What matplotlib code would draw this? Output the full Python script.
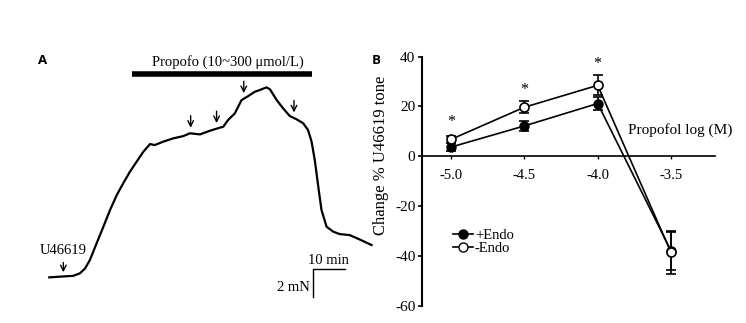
import numpy as np
import matplotlib
matplotlib.use("Agg")
import matplotlib.pyplot as plt
from matplotlib.lines import Line2D

plt.rcParams['font.family'] = ['Liberation Serif', 'DejaVu Serif']
plt.rcParams['axes.unicode_minus'] = False

# %% panel A: tension trace (min, mN above baseline)
trace_t = [0, 7.5, 9.6, 11.2, 12.7, 14.8, 16.9, 19.0, 21.1, 23.1, 25.2, 27.3, 29.4,
           31.5, 33.0, 35.6, 38.8, 41.9, 44.0, 47.1, 50.2, 53.3, 54.4, 55.9, 58.0,
           60.1, 62.2, 64.3, 65.8, 67.9, 69.0, 71.1, 73.1, 75.2, 77.3, 79.4, 80.9,
           82.0, 83.0, 84.1, 85.1, 86.7, 88.8, 90.8, 93.9, 97.0, 100.75]
trace_f = [0, 0.11, 0.29, 0.64, 1.24, 2.43, 3.61, 4.81, 5.88, 6.71, 7.54, 8.26, 8.97,
           9.52, 9.45, 9.69, 9.93, 10.09, 10.29, 10.21, 10.47, 10.69, 10.76, 11.24, 11.71,
           12.66, 12.95, 13.26, 13.38, 13.57, 13.43, 12.66, 12.07, 11.52, 11.29, 11.0, 10.52,
           9.69, 8.38, 6.47, 4.81, 3.61, 3.26, 3.09, 3.02, 2.71, 2.31]
dose_times = [44.2, 52.3, 60.8, 76.5]   # propofol additions
u46619_time = 4.4

# %% panel B: concentration-response
log_conc = [-5.0, -4.5, -4.0, -3.5]
endo_plus = [3.7, 12.2, 21.2, -38.0]
endo_plus_err = [1.5, 2.0, 2.5, 7.5]
endo_minus = [6.8, 19.7, 28.5, -38.6]
endo_minus_err = [1.5, 2.5, 4.0, 8.5]
star_x = [-5.0, -4.5, -4.0]
star_y = [13.7, 26.5, 37.0]

fig = plt.figure(figsize=(7.46, 3.23), dpi=100)

#%% A
ax = fig.add_axes([0, 0, 0.5, 1])
ax.set_xlim(-15.4, 101.2)
ax.set_ylim(-3.26, 19.81)
ax.axis("off")
ax.plot(trace_t, trace_f, color="black", lw=1.6, solid_joinstyle="round")

for t in dose_times:
    tip = np.interp(t, trace_t, trace_f) + 0.4
    ax.annotate("", xy=(t, tip), xytext=(t, tip + 0.85),
                arrowprops=dict(arrowstyle="->", color="black", lw=1.0,
                                shrinkA=0, shrinkB=0, mutation_scale=10))
tip = np.interp(u46619_time, trace_t, trace_f) + 0.3
ax.annotate("", xy=(u46619_time, tip), xytext=(u46619_time, tip + 0.7),
            arrowprops=dict(arrowstyle="->", color="black", lw=1.0,
                            shrinkA=0, shrinkB=0, mutation_scale=10))
ax.text(u46619_time, 1.9, "U46619", ha="center", va="center", fontsize=10.5)

ax.plot([25.9, 82.2], [14.5, 14.5], color="black", lw=4, solid_capstyle="butt")
ax.text(55.8, 15.4, "Propofo (10~300 \u03bcmol/L)", ha="center", va="center", fontsize=10.5)

# scale bar
ax.plot([92.4, 82.5, 82.5], [0.57, 0.57, -1.43], color="black", lw=1.0)
ax.text(87.4, 0.75, "10 min", ha="center", va="bottom", fontsize=10.5)
ax.text(81.4, -0.75, "2 mN", ha="right", va="center", fontsize=10.5)
ax.text(-2.0, 15.47, "A", ha="center", va="center", fontsize=9.5,
        fontweight="bold", family="Open Sans")

#%% B
bx = fig.add_axes([421.7 / 746, 17.3 / 323, 293.3 / 746, 249 / 323])
bx.set_xlim(-5.2, -3.2)
bx.set_ylim(-60, 40)
bx.errorbar(log_conc, endo_plus, yerr=endo_plus_err, color="black", lw=1.2,
            marker="o", ms=6.5, mfc="black", mec="black", capsize=3.5,
            elinewidth=1.2, capthick=1.2, zorder=3)
bx.errorbar(log_conc, endo_minus, yerr=endo_minus_err, color="black", lw=1.2,
            marker="o", ms=6.5, mfc="white", mec="black", mew=1.2, capsize=3.5,
            elinewidth=1.2, capthick=1.2, zorder=4)
for x, y in zip(star_x, star_y):
    bx.text(x, y, "*", ha="center", va="center", fontsize=11.5)

bx.spines["top"].set_visible(False)
bx.spines["right"].set_visible(False)
bx.spines["bottom"].set_position(("data", 0))
bx.spines["left"].set_linewidth(1.5)
bx.spines["bottom"].set_linewidth(1.2)
bx.set_yticks([-60, -40, -20, 0, 20, 40])
bx.set_xticks(log_conc)
bx.set_xticklabels(["-5.0", "-4.5", "-4.0", "-3.5"])
bx.tick_params(axis="y", length=3, width=1.2, pad=1.5, labelsize=11)
bx.tick_params(axis="x", length=2.5, width=1.0, pad=7, labelsize=10.5)
bx.set_ylabel("Change % U46619 tone", fontsize=12)
bx.yaxis.set_label_coords(-0.112, 0.605)
bx.text(-3.44, 10.5, "Propofol log (M)", ha="center", va="center", fontsize=11)

handles = [Line2D([], [], color="black", lw=1.2, marker="o", ms=6.5, mfc="black"),
           Line2D([], [], color="black", lw=1.2, marker="o", ms=6.5, mfc="white")]
bx.legend(handles, ["+Endo", "-Endo"], loc="upper left", bbox_to_anchor=(0.107, 0.308),
          frameon=False, borderpad=0, borderaxespad=0, handlelength=1.4,
          handletextpad=0.1, labelspacing=0, fontsize=10.5)
fig.text(376 / 746, 1 - 60.7 / 323, "B", ha="center", va="center", fontsize=9.5,
         fontweight="bold", family="Open Sans")

fig.savefig("out.png", dpi=100)
